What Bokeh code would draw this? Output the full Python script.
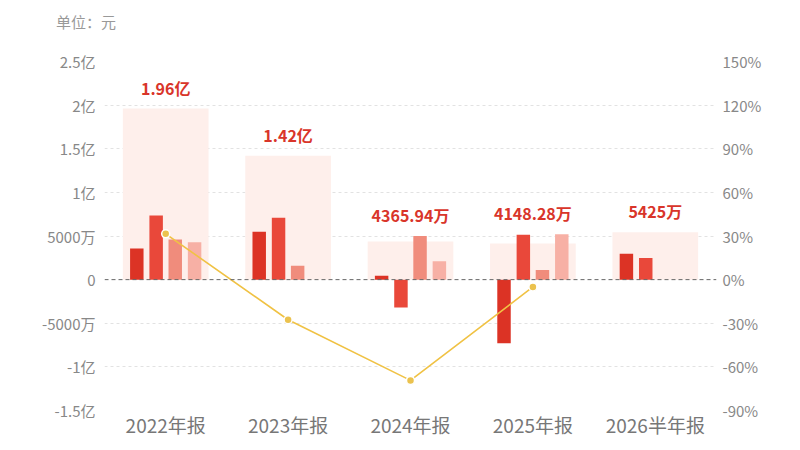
import numpy as np
from bokeh.plotting import figure
from bokeh.layouts import column
from bokeh.models import Range1d, LinearAxis, FixedTicker, Span, LabelSet, ColumnDataSource, Div
from bokeh.core.properties import value
from bokeh.embed import file_html
from bokeh.resources import INLINE

# data (values in 元, growth in %)
categories = ["2022年报", "2023年报", "2024年报", "2025年报", "2026半年报"]
totals = [1.96e8, 1.42e8, 4365.94e4, 4148.28e4, 5425e4]
total_labels = ["1.96亿", "1.42亿", "4365.94万", "4148.28万", "5425万"]
q1 = [3560e4, 5500e4, 450e4, -7300e4, 2960e4]
q2 = [7340e4, 7100e4, -3200e4, 5150e4, 2465e4]
q3 = [4590e4, 1600e4, 5000e4, 1100e4, np.nan]
q4 = [4280e4, 0, 2116e4, 5198e4, np.nan]
growth = [31.5, -27.6, -69.3, -5.0]

y_ticks = [-150000000, -100000000, -50000000, 0, 50000000, 100000000, 150000000, 200000000, 250000000]
y_tick_labels = ["-1.5亿", "-1亿", "-5000万", "0", "5000万", "1亿", "1.5亿", "2亿", "2.5亿"]
pct_ticks = [-90, -60, -30, 0, 30, 60, 90, 120, 150]

FONT = "Noto Sans CJK SC"
quarter_colors = ["#DC3325", "#E9483A", "#F08C7C", "#F7B0A5"]
quarter_offsets = [-0.236, -0.078, 0.078, 0.236]

xs = np.arange(len(categories)) + 0.5

unit = Div(text="单位：元", width=784, height=30,
           styles={"font-family": FONT, "font-size": "15px", "color": "#999999",
                   "line-height": "34px", "padding-left": "51px"})

p = figure(width=784, height=400, output_backend="svg", toolbar_location=None,
           x_range=Range1d(0, len(categories)), y_range=Range1d(-1.5e8, 2.5e8),
           min_border_left=104, min_border_right=68, min_border_top=21, min_border_bottom=24)
p.outline_line_color = None
p.background_fill_color = "white"
p.border_fill_color = "white"

# background bars with the period total
p.vbar(x=xs, top=totals, bottom=0, width=0.7, fill_color="#FEEFEB", line_color=None)

for vals, off, col in zip([q1, q2, q3, q4], quarter_offsets, quarter_colors):
    p.vbar(x=xs + off, top=vals, bottom=0, width=0.11, fill_color=col, line_color=None)

# labels above each group
label_y = np.nanmax(np.array([totals, q1, q2, q3, q4], dtype=float), axis=0)
src = ColumnDataSource(dict(x=xs, y=label_y, text=total_labels))
p.add_layout(LabelSet(x="x", y="y", text="text", source=src, y_offset=21,
                      text_align="center", text_baseline="middle",
                      text_font=value(FONT), text_font_size="16px", text_font_style="bold",
                      text_color="#D9352A"))

p.add_layout(Span(location=0, dimension="width", line_color="#666666",
                  line_dash="4 3", line_width=1))

# growth line on right axis
p.extra_y_ranges = {"pct": Range1d(-90, 150)}
p.line(xs[:len(growth)], growth, y_range_name="pct", line_color="#F0C244", line_width=1.6)
p.scatter(xs[:len(growth)], growth, y_range_name="pct", size=8,
          fill_color="#EBC24E", line_color="white", line_width=1.5)

# axes
p.xaxis.ticker = FixedTicker(ticks=list(xs))
p.xaxis.major_label_overrides = {float(x): c for x, c in zip(xs, categories)}
p.xaxis.major_label_text_font = FONT
p.xaxis.major_label_text_font_size = "19px"
p.xaxis.major_label_text_color = "#777777"
p.xaxis.major_label_standoff = 0

p.yaxis.ticker = FixedTicker(ticks=y_ticks)
p.yaxis.major_label_overrides = dict(zip(y_ticks, y_tick_labels))
p.yaxis.major_label_text_font = FONT
p.yaxis.major_label_text_font_size = "15px"
p.yaxis.major_label_text_color = "#888888"
p.yaxis.major_label_standoff = 9

right = LinearAxis(y_range_name="pct", ticker=FixedTicker(ticks=pct_ticks),
                   major_label_overrides={t: f"{t}%" for t in pct_ticks})
right.major_label_text_font = FONT
right.major_label_text_font_size = "15px"
right.major_label_text_color = "#888888"
right.major_label_standoff = 6
p.add_layout(right, "right")

for ax in [p.xaxis[0], p.yaxis[0], right]:
    ax.axis_line_color = None
    ax.major_tick_line_color = None
    ax.minor_tick_line_color = None
    ax.major_tick_out = 0
    ax.major_tick_in = 0

p.xgrid.visible = False
p.ygrid.ticker = FixedTicker(ticks=[t for t in y_ticks if t != 0])
p.ygrid.grid_line_color = "#E2E2E2"
p.ygrid.grid_line_dash = "3 3"

layout = column(unit, p, spacing=0)
open("out.html", "w").write(file_html(layout, INLINE))
